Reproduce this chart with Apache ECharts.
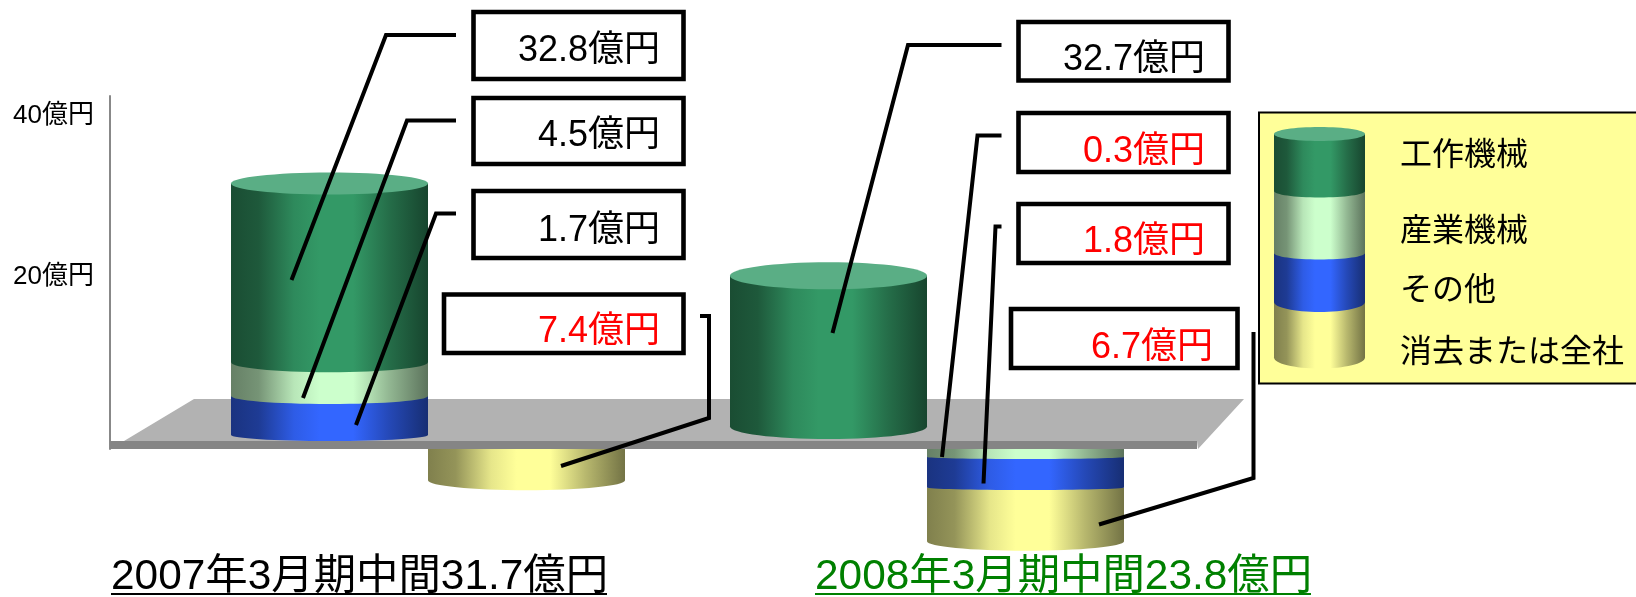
<!DOCTYPE html>
<html><head><meta charset="utf-8">
<style>html,body{margin:0;padding:0;background:#fff}#c{width:1636px;height:597px}</style>
<script src="https://cdn.jsdelivr.net/npm/echarts@6/dist/echarts.min.js"></script>
</head><body><div id="c"></div>
<script>
const categories = ['2007年3月期中間', '2008年3月期中間'];
const totals = [31.7, 23.8];
const seriesNames = ['工作機械', '産業機械', 'その他', '消去または全社'];
const yTicks = [20, 40];
// stated amounts printed in the boxes
const machineToolAmounts = ['32.8', '32.7'];
const industrialAmounts = ['4.5', '0.3'];
const otherAmounts = ['1.7', '1.8'];
const eliminationAmounts = ['7.4', '6.7'];
// drawn extents [from, to] on the axis (picture is schematic)
const machineToolExtents = [[8.8, 31.1], [0.8, 19.6]];
const industrialExtents = [[4.6, 8.8], [-3.0, -2.0]];
const otherExtents = [[-0.25, 4.6], [-6.8, -3.0]];
const eliminationExtents = [[-5.9, -2.0], [-13.5, -6.8]];

const FONT = '"Liberation Sans","Noto Sans CJK JP",sans-serif';
const palette = ['#339966', '#CCFFCC', '#3366FF', '#FFFF99'];
const capColor = '#5AAE85';

function shade(hex, k) {
  const n = parseInt(hex.slice(1), 16);
  const f = v => Math.round(v * k);
  return `rgb(${f(n >> 16 & 255)},${f(n >> 8 & 255)},${f(n & 255)})`;
}
function sideFill(hex) {
  return { type: 'linear', x: 0, y: 0, x2: 1, y2: 0, colorStops: [
    { offset: 0, color: shade(hex, 0.5) }, { offset: 0.14, color: shade(hex, 0.58) },
    { offset: 0.32, color: shade(hex, 0.9) }, { offset: 0.45, color: hex },
    { offset: 0.62, color: hex }, { offset: 0.8, color: shade(hex, 0.72) },
    { offset: 1, color: shade(hex, 0.45) } ] };
}
const RATIO = 197 / 499;
const curve = [[10, 12.5], [8, 2], [6, 2.5], [10, 9.5]];
const capCurve = [11, 13.5];
function cylinderSeries(idx, extents, slot, z) {
  const rows = extents.map((e, i) => [i, e[0], e[1], slot[i]]);
  return {
    type: 'custom', name: seriesNames[idx], z, clip: false, silent: true,
    encode: { x: 0, y: [1, 2] }, data: rows,
    renderItem(params, api) {
      const c = api.value(0);
      const band = api.size([1, 0])[0];
      const w = band * RATIO;
      const cx = api.coord([c, 0])[0] + api.value(3) * w;
      const yB = api.coord([c, api.value(1)])[1];
      const yT = api.coord([c, api.value(2)])[1];
      const fill = sideFill(palette[idx]);
      const kids = [
        { type: 'ellipse', shape: { cx, cy: yB, rx: w / 2, ry: curve[idx][c] }, style: { fill } },
        { type: 'rect', shape: { x: cx - w / 2, y: yT, width: w, height: yB - yT }, style: { fill } }
      ];
      if (idx === 0) kids.push({ type: 'ellipse', shape: { cx, cy: yT, rx: w / 2, ry: capCurve[c] }, style: { fill: capColor } });
      return { type: 'group', children: kids };
    }
  };
}

const g = [];
// floor
g.push({ type: 'polygon', z: 1, shape: { points: [[194, 399], [1244, 399], [1198, 449], [1197, 441], [124, 441]] }, style: { fill: '#B2B2B2' } });
g.push({ type: 'polygon', z: 10, shape: { points: [[110, 441], [1197, 441], [1197, 449], [110, 449]] }, style: { fill: '#858585' } });

function box(x0, y0, x1, y1) {
  g.push({ type: 'rect', z: 15, shape: { x: x0 + 2, y: y0 + 2, width: x1 - x0 - 4, height: y1 - y0 - 4 }, style: { fill: '#fff', stroke: '#000', lineWidth: 4.6 } });
}
function label(text, x, y, color) {
  g.push({ type: 'text', z: 16, style: { text, x, y: y + 3, fill: color, font: `36px ${FONT}`, textAlign: 'right', textVerticalAlign: 'middle' } });
}
function leader(points) {
  g.push({ type: 'polyline', z: 20, shape: { points }, style: { stroke: '#000', lineWidth: 4, fill: null, lineJoin: 'miter' } });
}
const U = '億円';
box(471.5, 10, 685.5, 81); label(machineToolAmounts[0] + U, 660, 48, '#000');
box(471.5, 96, 685.5, 166); label(industrialAmounts[0] + U, 660, 133, '#000');
box(471.5, 189, 685.5, 260); label(otherAmounts[0] + U, 660, 228, '#000');
box(442, 292.5, 685.5, 355); label(eliminationAmounts[0] + U, 660, 329, '#FF0000');
box(1016.5, 20, 1230.5, 82.5); label(machineToolAmounts[1] + U, 1205, 57, '#000');
box(1016.5, 111, 1230.5, 174); label(industrialAmounts[1] + U, 1205, 149, '#FF0000');
box(1016.5, 202, 1230.5, 265); label(otherAmounts[1] + U, 1205, 239, '#FF0000');
box(1009, 307, 1239.5, 370); label(eliminationAmounts[1] + U, 1213, 345, '#FF0000');

leader([[456, 35], [386, 35], [291.5, 280]]);
leader([[456, 120.5], [407, 120.5], [303, 398]]);
leader([[456, 213.5], [436, 213.5], [356, 425]]);
leader([[700, 316], [709, 316], [709, 418], [561, 466]]);
leader([[1001.5, 45], [908, 45], [832.5, 333]]);
leader([[1001.5, 135.5], [977.5, 135.5], [942, 457]]);
leader([[1001.5, 226.5], [995.5, 226.5], [983.5, 483.5]]);
leader([[1253.5, 332], [1253.5, 478], [1099, 524.5]]);

// titles
function title(text, x0, x1, color) {
  g.push({ type: 'text', z: 16, style: { text, x: x0, y: 577, fill: color, font: `42.4px ${FONT}`, textAlign: 'left', textVerticalAlign: 'middle' } });
  g.push({ type: 'rect', z: 16, shape: { x: x0, y: 593, width: x1 - x0, height: 2 }, style: { fill: color } });
}
title(categories[0] + totals[0] + U, 111, 607, '#000');
title(categories[1] + totals[1] + U, 815, 1311, '#008000');

// legend panel
g.push({ type: 'rect', z: 15, shape: { x: 1259, y: 112.5, width: 400, height: 271 }, style: { fill: '#FFFF99', stroke: '#000', lineWidth: 2 } });
const lx = 1274, lw = 91;
const legendBands = [[134, 191, 6.5], [191, 253, 6.5], [253, 302, 10], [302, 357.5, 11]];
for (let i = 3; i >= 0; i--) {
  const b = legendBands[i], fill = sideFill(palette[i]);
  g.push({ type: 'ellipse', z: 16, shape: { cx: lx + lw / 2, cy: b[1], rx: lw / 2, ry: b[2] }, style: { fill } });
  g.push({ type: 'rect', z: 16, shape: { x: lx, y: b[0], width: lw, height: b[1] - b[0] }, style: { fill } });
}
g.push({ type: 'ellipse', z: 16, shape: { cx: lx + lw / 2, cy: 134, rx: lw / 2, ry: 7 }, style: { fill: capColor } });
[156, 232, 291, 353].forEach((y, i) => {
  g.push({ type: 'text', z: 16, style: { text: seriesNames[i], x: 1400, y, fill: '#000', font: `32px ${FONT}`, textAlign: 'left', textVerticalAlign: 'middle' } });
});

const chart = echarts.init(document.getElementById('c'), null, { renderer: 'canvas' });
chart.setOption({
  animation: false,
  backgroundColor: '#fff',
  grid: { left: 80, right: 558, top: 96, bottom: 148, containLabel: false },
  xAxis: { type: 'category', data: categories, show: false, boundaryGap: true },
  yAxis: {
    type: 'value', min: -2, max: 42, offset: -30,
    axisLine: { show: true, onZero: false, lineStyle: { color: '#888', width: 2 } },
    axisTick: { show: false },
    splitLine: { show: false },
    axisLabel: {
      customValues: yTicks, formatter: v => `{a|${v}${U}}`, margin: 16,
      rich: { a: { color: '#000', fontSize: 26, fontFamily: FONT, padding: [8, 0, 0, 0] } }
    }
  },
  series: [
    cylinderSeries(0, machineToolExtents, [0, 0], 8),
    cylinderSeries(1, industrialExtents, [0, 1], 7),
    cylinderSeries(2, otherExtents, [0, 1], 6),
    cylinderSeries(3, eliminationExtents, [1, 1], 5)
  ],
  graphic: { elements: g }
});
</script></body></html>
